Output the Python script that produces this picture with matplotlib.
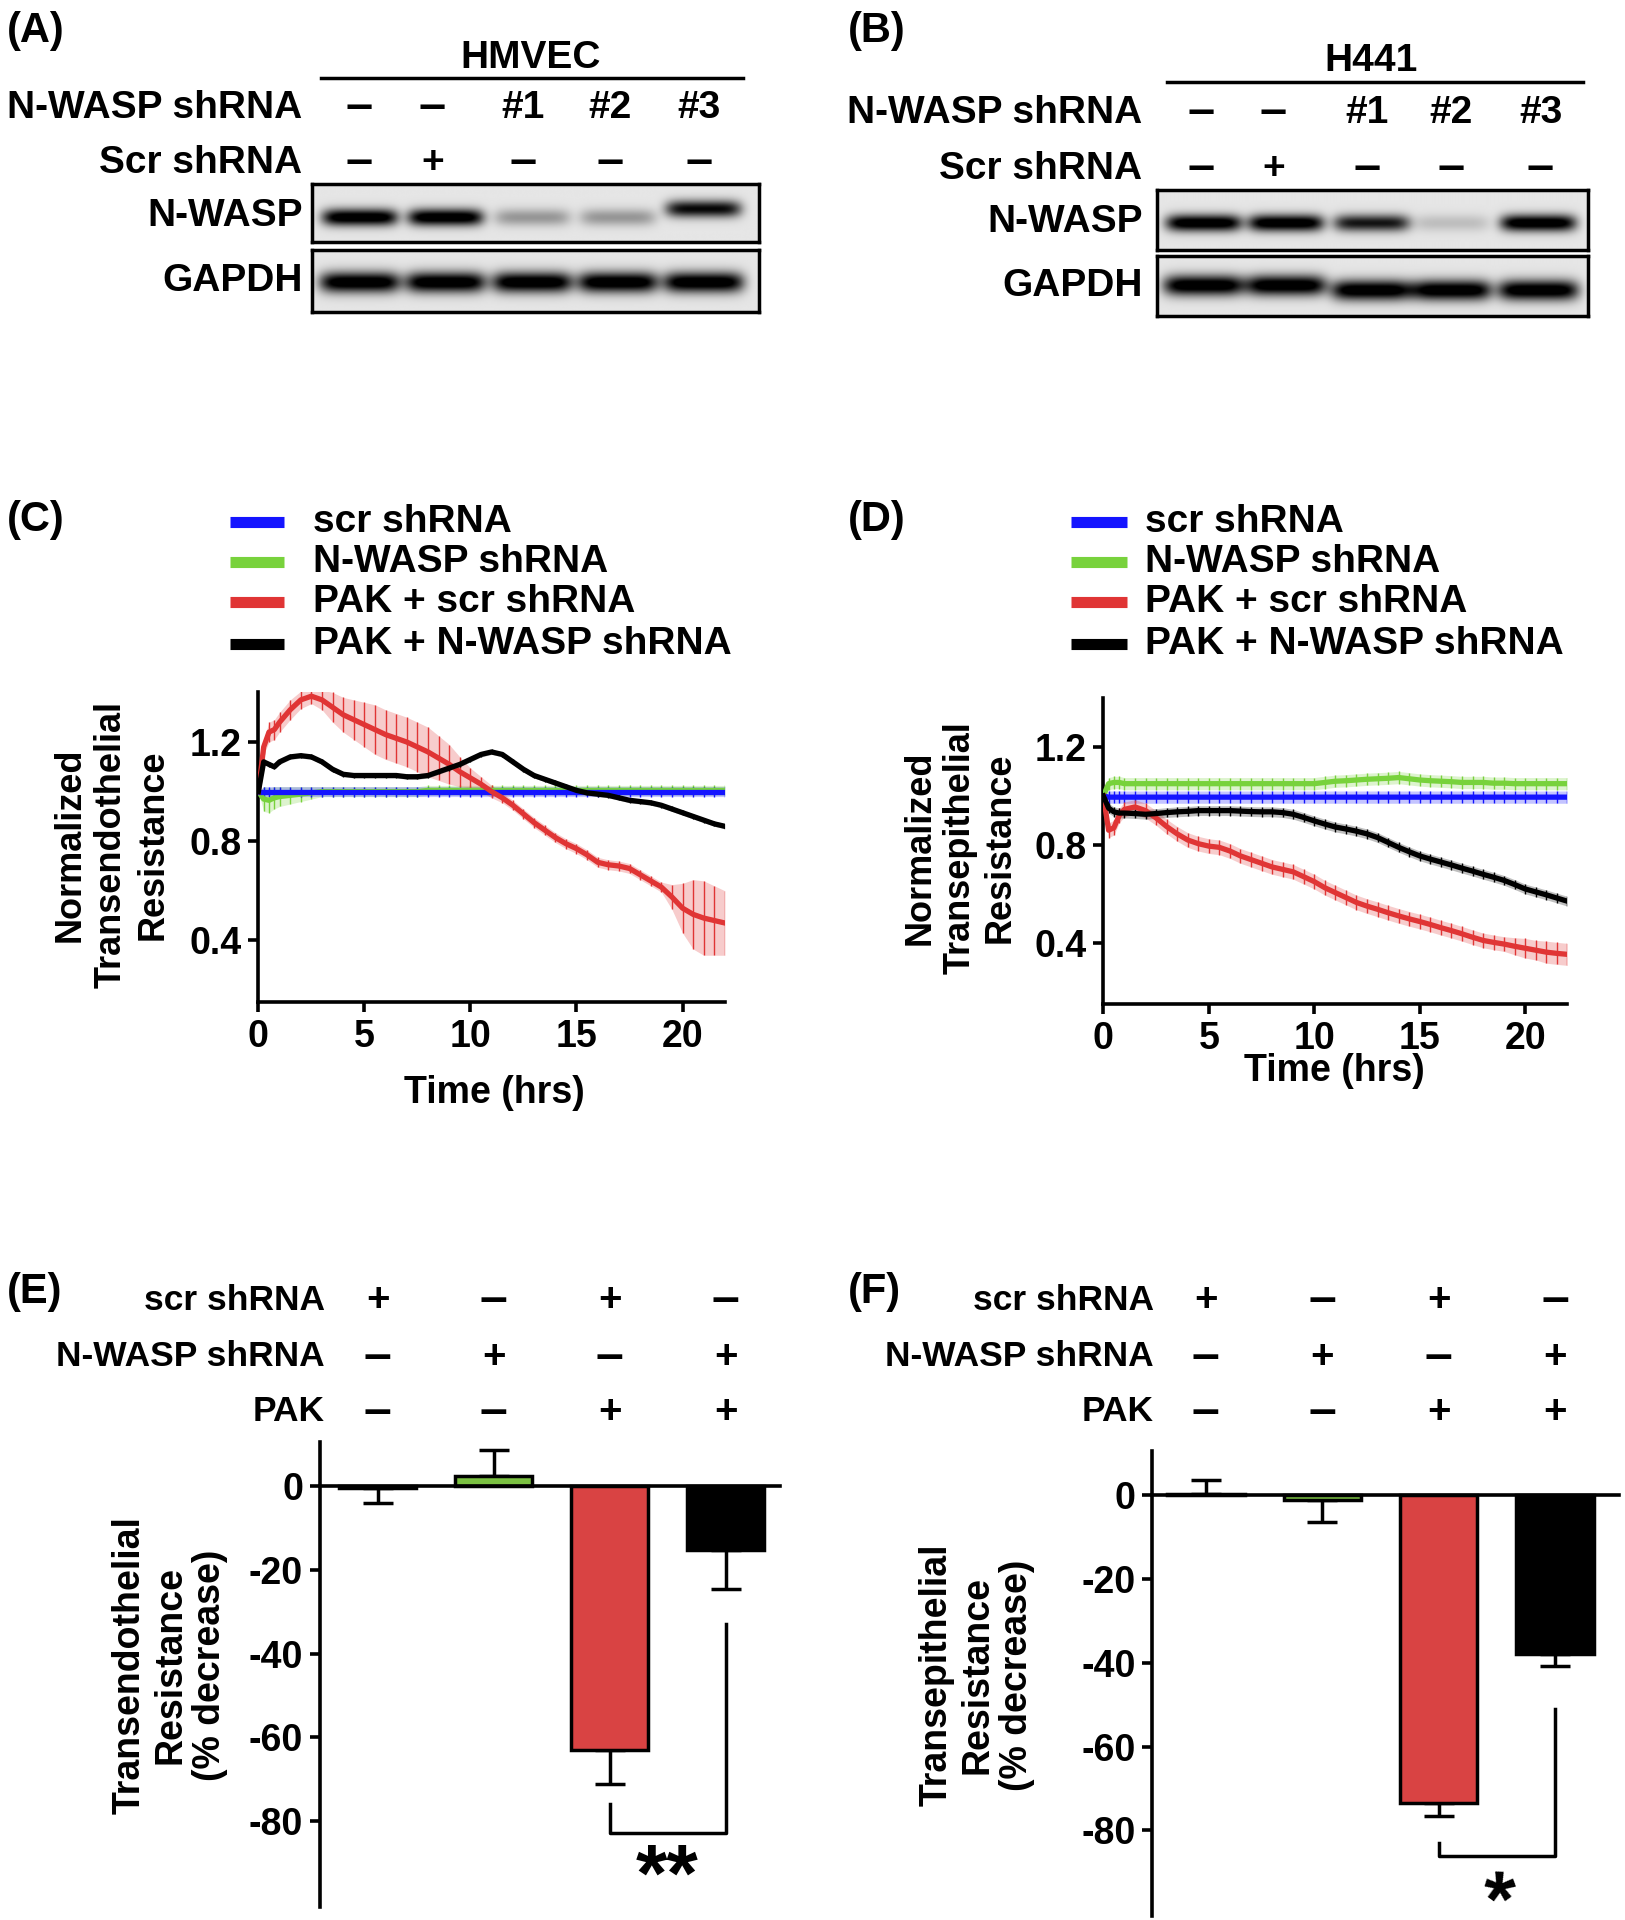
import numpy as np
import matplotlib
matplotlib.use("Agg")
import matplotlib.pyplot as plt
from matplotlib.lines import Line2D
from matplotlib.transforms import blended_transform_factory

plt.rcParams['font.family'] = ['Liberation Sans', 'DejaVu Sans']
plt.rcParams['font.weight'] = 'bold'
plt.rcParams['axes.unicode_minus'] = False

# ---------------- data ----------------
lane_nwasp = ['–', '–', '#1', '#2', '#3']
lane_scr = ['–', '+', '–', '–', '–']
band_nwasp_A = [1.0, 1.0, 0.3, 0.3, 0.85]
band_gapdh_A = [1.0, 1.0, 1.0, 1.0, 1.0]
band_nwasp_B = [1.0, 1.0, 0.8, 0.15, 1.0]
band_gapdh_B = [1.0, 1.0, 1.0, 1.0, 1.0]

series_names = ['scr shRNA', 'N-WASP shRNA', 'PAK + scr shRNA', 'PAK + N-WASP shRNA']
series_colors = ['#1414ff', '#78d23c', '#e03535', '#000000']

time_hrs = [0, 0.25, 0.5, 0.75, 1, 1.5, 2, 2.5, 3, 3.5, 4, 4.5, 5, 5.5, 6, 6.5, 7,
            7.5, 8, 8.5, 9, 9.5, 10, 10.5, 11, 11.5, 12, 12.5, 13, 13.5, 14, 14.5,
            15, 15.5, 16, 16.5, 17, 17.5, 18, 18.5, 19, 19.5, 20, 20.5, 21, 21.5, 22]

# (C) HMVEC transendothelial resistance
c_scr = [1.0] * 47
c_scr_err = [0.0] + [0.02] * 46
c_nwasp = [1.0, 0.97, 0.965, 0.975, 0.98, 0.985, 0.99, 0.995, 1.0, 1.0, 1.0, 1.0,
           1.0, 1.0, 1.0, 1.0, 1.0, 1.0, 1.005, 1.005, 1.005, 1.005, 1.005, 1.005,
           1.005, 1.005, 1.005, 1.005, 1.005, 1.005, 1.005, 1.005, 1.005, 1.005,
           1.005, 1.005, 1.005, 1.005, 1.005, 1.005, 1.005, 1.005, 1.005, 1.005,
           1.005, 1.005, 1.005]
c_nwasp_err = [0.0, 0.05, 0.05, 0.045, 0.04, 0.035, 0.03, 0.025] + [0.02] * 39
c_pak_scr = [1.0, 1.18, 1.24, 1.25, 1.28, 1.33, 1.37, 1.385, 1.37, 1.34, 1.31, 1.29,
             1.27, 1.25, 1.23, 1.215, 1.2, 1.18, 1.16, 1.135, 1.11, 1.08, 1.055, 1.03,
             1.0, 0.975, 0.945, 0.91, 0.875, 0.845, 0.815, 0.79, 0.77, 0.745, 0.715,
             0.705, 0.7, 0.69, 0.665, 0.64, 0.615, 0.575, 0.53, 0.505, 0.49, 0.48, 0.47]
c_pak_scr_err = [0.0, 0.03, 0.04, 0.04, 0.04, 0.04, 0.035, 0.03, 0.04, 0.06, 0.07,
                 0.08, 0.09, 0.1, 0.1, 0.1, 0.1, 0.1, 0.1, 0.09, 0.08, 0.06, 0.04,
                 0.03, 0.025, 0.02, 0.02, 0.02, 0.02, 0.02, 0.02, 0.02, 0.02, 0.02,
                 0.02, 0.02, 0.02, 0.02, 0.02, 0.02, 0.02, 0.05, 0.1, 0.14, 0.15,
                 0.14, 0.13]
c_pak_nwasp = [1.0, 1.12, 1.11, 1.1, 1.12, 1.14, 1.145, 1.14, 1.12, 1.09, 1.07, 1.065,
               1.065, 1.065, 1.065, 1.065, 1.06, 1.06, 1.065, 1.08, 1.095, 1.11, 1.13,
               1.15, 1.16, 1.15, 1.12, 1.09, 1.065, 1.05, 1.035, 1.02, 1.005, 0.995,
               0.99, 0.985, 0.975, 0.965, 0.96, 0.955, 0.945, 0.93, 0.915, 0.9, 0.885,
               0.87, 0.86]
c_pak_nwasp_err = [0.0] + [0.01] * 46

# (D) H441 transepithelial resistance
d_scr = [1.0] + [0.995] * 46
d_scr_err = [0.0] + [0.025] * 46
d_nwasp = [1.0, 1.05, 1.055, 1.055, 1.05, 1.05, 1.05, 1.05, 1.05, 1.05, 1.05, 1.05,
           1.05, 1.05, 1.05, 1.05, 1.05, 1.05, 1.05, 1.05, 1.05, 1.05, 1.05, 1.055,
           1.06, 1.062, 1.065, 1.068, 1.07, 1.072, 1.075, 1.07, 1.065, 1.062, 1.06,
           1.058, 1.055, 1.055, 1.055, 1.052, 1.052, 1.05, 1.05, 1.05, 1.05, 1.05, 1.05]
d_nwasp_err = [0.0] + [0.025] * 46
d_pak_scr = [1.0, 0.86, 0.87, 0.92, 0.945, 0.955, 0.94, 0.91, 0.875, 0.845, 0.82, 0.805,
             0.795, 0.79, 0.775, 0.755, 0.74, 0.725, 0.71, 0.7, 0.69, 0.67, 0.65, 0.625,
             0.605, 0.585, 0.565, 0.55, 0.537, 0.523, 0.51, 0.498, 0.487, 0.475, 0.462,
             0.45, 0.437, 0.423, 0.41, 0.402, 0.395, 0.386, 0.378, 0.37, 0.362, 0.357,
             0.353]
d_pak_scr_err = [0.0] + [0.03] * 40 + [0.035, 0.04, 0.04, 0.045, 0.045, 0.045]
d_pak_nwasp = [1.0, 0.95, 0.935, 0.93, 0.93, 0.928, 0.925, 0.928, 0.932, 0.935, 0.937,
               0.94, 0.94, 0.94, 0.94, 0.938, 0.936, 0.935, 0.935, 0.932, 0.925, 0.912,
               0.898, 0.885, 0.873, 0.865, 0.856, 0.845, 0.83, 0.81, 0.79, 0.772, 0.755,
               0.742, 0.73, 0.718, 0.705, 0.693, 0.68, 0.668, 0.655, 0.638, 0.62, 0.608,
               0.596, 0.583, 0.57]
d_pak_nwasp_err = [0.0] + [0.02] * 46

# (E)/(F) percent decrease bars
bar_scr = ['+', '–', '+', '–']
bar_nwasp = ['–', '+', '–', '+']
bar_pak = ['–', '–', '+', '+']
bar_colors = ['white', '#7bc142', '#d94343', 'black']
e_means = [-0.3, 2.5, -63.0, -15.2]
e_err = [3.7, 6.2, 8.2, 9.3]
f_means = [0.3, -1.3, -73.5, -38.0]
f_err = [3.2, 5.2, 3.0, 2.7]

# ---------------- layout helpers (reference layout units 1327 x 1568) ----------------
W, H = 1327.0, 1568.0


def fx(x):
    return x / W


def fy(y):
    return 1 - y / H


def rect(x0, y0, x1, y1):
    return [x0 / W, 1 - y1 / H, (x1 - x0) / W, (y1 - y0) / H]


def sym_size(s, base):
    # the dashes in the original are drawn noticeably longer than a plain en dash
    return base + 9 if s == '–' else base + 2


fig = plt.figure(figsize=(16.25, 19.2), dpi=100)


def panel_letter(x, y, s):
    fig.text(fx(x), fy(y), s, fontsize=30, ha='left', va='center')


def draw_blot(x0, y0, x1, y1, dens, centers, yc, half_w, half_h):
    ax = fig.add_axes(rect(x0, y0, x1, y1))
    xs = np.linspace(x0, x1, 500)
    ys = np.linspace(y0, y1, 120)
    X, Y = np.meshgrid(xs, ys)
    dark = np.zeros_like(X)
    for c, d, yy in zip(centers, dens, yc):
        dark += d * np.exp(-((X - c) / half_w) ** 6) * np.exp(-((Y - yy) / half_h) ** 2)
    img = 0.9 - 0.9 * np.clip(dark * 1.15, 0, 1)
    ax.imshow(img, extent=(x0, x1, y1, y0), cmap='gray', vmin=0, vmax=1,
              aspect='auto', interpolation='bilinear')
    ax.set_xticks([])
    ax.set_yticks([])
    for sp in ax.spines.values():
        sp.set_linewidth(2.5)
    return ax


def blot_panel(letter, lx, cell, title_x, line_x0, line_x1, title_y, label_right,
               row1_y, row2_y, label_xs, box_x0, box_x1, box1, box2,
               nw_dens, gp_dens, band_xs, nw_yc, gp_yc):
    panel_letter(lx, 25, letter)
    fig.text(fx(title_x), fy(title_y), cell, fontsize=28, ha='center', va='center')
    fig.add_artist(Line2D([fx(line_x0), fx(line_x1)], [fy(title_y + 17)] * 2,
                          color='black', lw=2.5))
    fig.text(fx(label_right), fy(row1_y), 'N-WASP shRNA', fontsize=28, ha='right', va='center')
    fig.text(fx(label_right), fy(row2_y), 'Scr shRNA', fontsize=28, ha='right', va='center')
    for x, a, b in zip(label_xs, lane_nwasp, lane_scr):
        fig.text(fx(x), fy(row1_y), a, fontsize=sym_size(a, 26) if a == '–' else 28,
                 ha='center', va='center')
        fig.text(fx(x), fy(row2_y), b, fontsize=sym_size(b, 26), ha='center', va='center')
    draw_blot(box_x0, box1[0], box_x1, box1[1], nw_dens, band_xs, nw_yc, 31, 7)
    draw_blot(box_x0, box2[0], box_x1, box2[1], gp_dens, band_xs, gp_yc, 33, 8.5)
    fig.text(fx(label_right), fy((box1[0] + box1[1]) / 2 + 2), 'N-WASP', fontsize=28,
             ha='right', va='center')
    fig.text(fx(label_right), fy((box2[0] + box2[1]) / 2), 'GAPDH', fontsize=28,
             ha='right', va='center')


# (A)
blot_panel('(A)', 6, 'HMVEC', 433, 262, 607, 47, 247, 88, 133,
           [293, 353, 427, 498, 571], 255, 620, (150, 198), (204, 255),
           band_nwasp_A, band_gapdh_A, [294, 364, 435, 505, 575],
           [178, 178, 178, 178, 171], [231, 231, 231, 231, 231])
# (B)
blot_panel('(B)', 692, 'H441', 1120, 953, 1293, 50, 933, 92, 138,
           [981, 1040, 1116, 1185, 1258], 945, 1297, (155, 204), (209, 258),
           band_nwasp_B, band_gapdh_B, [983, 1050, 1120, 1185, 1256],
           [182, 182, 182, 182, 182], [233, 233, 237, 237, 237])


def legend(hx0, hx1, tx, rows):
    for name, col, y in zip(series_names, series_colors, rows):
        fig.add_artist(Line2D([fx(hx0), fx(hx1)], [fy(y)] * 2, color=col, lw=8,
                              solid_capstyle='butt'))
        fig.text(fx(tx), fy(y), name, fontsize=28, ha='left', va='center')


def line_panel(ax, series):
    for mean, err, col in series:
        ax.errorbar(time_hrs, mean, yerr=err, color=col, lw=3.8, elinewidth=1.0,
                    capsize=0, zorder=3)
        lo = np.array(mean) - np.array(err)
        hi = np.array(mean) + np.array(err)
        ax.fill_between(time_hrs, lo, hi, color=col, alpha=0.25, lw=0, zorder=2)
    ax.set_xlim(0, 22)
    ax.set_ylim(0.15, 1.4)
    ax.set_xticks([0, 5, 10, 15, 20])
    ax.set_yticks([0.4, 0.8, 1.2])
    ax.spines['top'].set_visible(False)
    ax.spines['right'].set_visible(False)
    for sp in ('left', 'bottom'):
        ax.spines[sp].set_linewidth(2.6)
    ax.tick_params(width=2.6, length=7, labelsize=27, pad=5)
    for lab in ax.get_xticklabels() + ax.get_yticklabels():
        lab.set_fontweight('bold')


# (C)
panel_letter(6, 425, '(C)')
legend(188, 232, 256, [426, 459, 492, 526])
axC = fig.add_axes(rect(211, 565.5, 592, 818.6))
line_panel(axC, [(c_nwasp, c_nwasp_err, series_colors[1]),
                 (c_scr, c_scr_err, series_colors[0]),
                 (c_pak_scr, c_pak_scr_err, series_colors[2]),
                 (c_pak_nwasp, c_pak_nwasp_err, series_colors[3])])
fig.text(fx(91), fy(690), 'Normalized\nTransendothelial\nResistance', rotation=90,
         fontsize=26, ha='center', va='center', multialignment='center', linespacing=1.25)
fig.text(fx(404), fy(893), 'Time (hrs)', fontsize=27, ha='center', va='center')

# (D)
panel_letter(692, 425, '(D)')
legend(875, 920, 935, [426, 459, 492, 526])
axD = fig.add_axes(rect(901, 570, 1280, 820))
line_panel(axD, [(d_nwasp, d_nwasp_err, series_colors[1]),
                 (d_scr, d_scr_err, series_colors[0]),
                 (d_pak_scr, d_pak_scr_err, series_colors[2]),
                 (d_pak_nwasp, d_pak_nwasp_err, series_colors[3])])
fig.text(fx(784), fy(692), 'Normalized\nTransepithelial\nResistance',
         rotation=90, fontsize=26, ha='center', va='center', multialignment='center',
         linespacing=1.2)
fig.text(fx(1090), fy(875), 'Time (hrs)', fontsize=27, ha='center', va='center')


def bar_panel(ax, means, errs, xlim, label_right, ylabel, ylab_x, ylab_y, bracket):
    for i, (m, e, c) in enumerate(zip(means, errs, bar_colors)):
        ax.bar(i, m, width=0.665, color=c, edgecolor='black', linewidth=2.5, zorder=3)
        ax.errorbar(i, m, yerr=[[0], [e]] if m >= 0 else [[e], [0]], fmt='none',
                    ecolor='black', elinewidth=2.5, capsize=11, capthick=2.5, zorder=2)
    ax.set_xlim(*xlim)
    ax.set_ylim(-100.5, 10.5)
    ax.set_yticks([0, -20, -40, -60, -80])
    ax.spines['top'].set_visible(False)
    ax.spines['right'].set_visible(False)
    ax.spines['bottom'].set_position(('data', 0))
    ax.spines['bottom'].set_zorder(4)
    for sp in ('left', 'bottom'):
        ax.spines[sp].set_linewidth(2.6)
    ax.tick_params(axis='x', length=0, labelbottom=False)
    ax.tick_params(axis='y', width=2.6, length=7, labelsize=27, pad=5)
    for lab in ax.get_yticklabels():
        lab.set_fontweight('bold')
    # significance bracket
    y_left, y_bot, y_right = bracket
    ax.plot([2, 2, 3, 3], [y_left, y_bot, y_bot, y_right], color='black', lw=2.5,
            clip_on=False, zorder=3)
    # condition table above
    tr = blended_transform_factory(ax.transData, fig.transFigure)
    for y, name, row in zip([1062, 1108, 1153], ['scr shRNA', 'N-WASP shRNA', 'PAK'],
                            [bar_scr, bar_nwasp, bar_pak]):
        fig.text(fx(label_right), fy(y), name, fontsize=25.5, ha='right', va='center')
        for i, s in enumerate(row):
            ax.text(i, fy(y), s, transform=tr, fontsize=sym_size(s, 27), ha='center',
                    va='center')
    fig.text(fx(ylab_x), fy(ylab_y), ylabel, rotation=90, fontsize=27, ha='center',
             va='center', multialignment='center', linespacing=1.15)
    return tr


# (E)
panel_letter(6, 1055, '(E)')
axE = fig.add_axes(rect(261, 1178, 637, 1557))
trE = bar_panel(axE, e_means, e_err, (-0.5, 3.47), 265,
                'Transendothelial\nResistance\n(% decrease)', 139, 1360, (-76, -83, -33))
axE.text(2.5, fy(1566), '**', transform=trE, fontsize=58, ha='center', va='bottom')

# (F)
panel_letter(692, 1055, '(F)')
axF = fig.add_axes(rect(941, 1185, 1322, 1565))
trF = bar_panel(axF, f_means, f_err, (-0.46, 3.55), 942,
                'Transepithelial\nResistance\n(% decrease)', 798, 1368, (-83, -86, -51))
# the five-armed star looks the same after a 144 degree turn, which drops the ink
# to the foot of its text box so it can sit this close to the bottom edge
axF.text(2.62, fy(1527), '*', transform=trF, fontsize=57, ha='center', va='center',
         rotation=144)

fig.savefig('out.png', dpi=100)
